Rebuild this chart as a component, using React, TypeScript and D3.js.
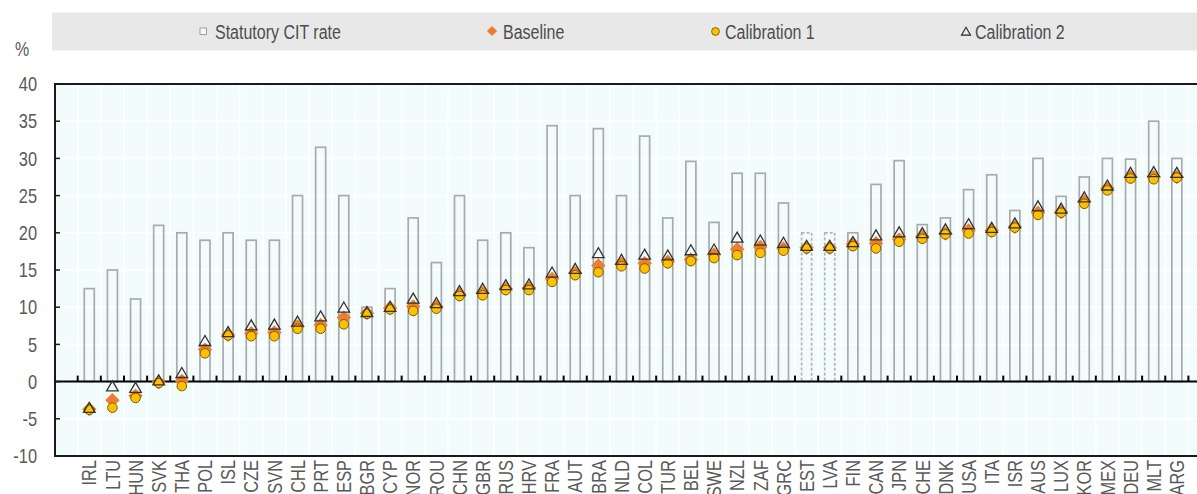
import React from "react";
import * as d3 from "d3";

// Country codes, ordered by baseline ETR
const categories = [
  "IRL", "LTU", "HUN", "SVK", "THA", "POL", "ISL", "CZE", "SVN", "CHL", "PRT", "ESP",
  "BGR", "CYP", "NOR", "ROU", "CHN", "GBR", "RUS", "HRV", "FRA", "AUT", "BRA", "NLD",
  "COL", "TUR", "BEL", "SWE", "NZL", "ZAF", "GRC", "EST", "LVA", "FIN", "CAN", "JPN",
  "CHE", "DNK", "USA", "ITA", "ISR", "AUS", "LUX", "KOR", "MEX", "DEU", "MLT", "ARG",
];

// Statutory corporate income tax rate (%)
const statutory = [
  12.5, 15, 11.1, 21, 20, 19, 20, 19, 19, 25, 31.5, 25,
  10, 12.5, 22, 16, 25, 19, 20, 18, 34.4, 25, 34, 25,
  33, 22, 29.6, 21.4, 28, 28, 24, 20, 20, 20, 26.5, 29.7,
  21.1, 22, 25.8, 27.8, 23, 30, 24.9, 27.5, 30, 29.9, 35, 30,
];

// Countries whose statutory rate is shown with a dashed outline
const dashedCountries = ["EST", "LVA"];

const baseline = [
  -3.7, -2.5, -1.9, -0.1, 0.1, 4.3, 6.3, 6.5, 6.6, 7.4, 7.6, 8.6,
  9.2, 9.9, 10.1, 10.1, 11.7, 11.9, 12.5, 12.6, 13.8, 14.6, 15.6, 15.8,
  15.9, 16.1, 16.4, 17.1, 17.8, 18.1, 17.9, 18.0, 18.0, 18.5, 18.6, 19.1,
  19.5, 19.9, 20.3, 20.3, 20.8, 22.7, 22.8, 24.2, 26.0, 27.5, 27.5, 27.5,
];

const calibration1 = [
  -3.8, -3.5, -2.2, -0.2, -0.6, 3.8, 6.2, 6.1, 6.1, 7.1, 7.1, 7.7,
  9.1, 9.7, 9.5, 9.8, 11.5, 11.6, 12.3, 12.3, 13.4, 14.3, 14.7, 15.5,
  15.2, 15.9, 16.2, 16.6, 17.0, 17.3, 17.6, 17.9, 17.9, 18.2, 17.9, 18.8,
  19.2, 19.8, 19.9, 20.1, 20.7, 22.4, 22.7, 23.9, 25.7, 27.3, 27.2, 27.4,
];

const calibration2 = [
  -3.7, -0.8, -1.0, 0.0, 1.0, 5.3, 6.5, 7.4, 7.5, 7.9, 8.6, 9.8,
  9.2, 9.9, 11.0, 10.4, 12.0, 12.3, 12.8, 12.9, 14.5, 15.0, 17.1, 16.2,
  16.9, 16.8, 17.5, 17.6, 19.2, 18.8, 18.5, 18.1, 18.1, 18.6, 19.5, 19.9,
  19.8, 20.3, 21.0, 20.5, 21.1, 23.4, 23.1, 24.6, 26.2, 27.9, 28.0, 27.9,
];

const yTicks = [-10, -5, 0, 5, 10, 15, 20, 25, 30, 35, 40];
const legendLabels = ["Statutory CIT rate", "Baseline", "Calibration 1", "Calibration 2"];

const W = 1197;
const H = 494;
const FONT = "'Liberation Sans', Arial, sans-serif";
const NARROW = 0.82;
const TEXT = "#595959";

const plotLeft = 55;
const plotTop = 84;
const plotBottom = 456;

const x = d3.scaleBand<string>().domain(categories).range([77.7, 1188.4]).padding(0);
const y = d3.scaleLinear().domain([-10, 40]).range([plotBottom, plotTop]);
const bw = x.bandwidth();
const plotRight = 1188.4 + bw;

const diamond = d3.symbol().type(d3.symbolSquare).size(104)();
const triangle = d3.symbol().type(d3.symbolTriangle).size(58)();
const legendDiamond = d3.symbol().type(d3.symbolSquare).size(52)();
const legendTriangle = d3.symbol().type(d3.symbolTriangle).size(36)();

function NarrowText(props: {
  x: number; y: number; size: number; anchor?: string; rotate?: number; fill?: string; dy?: string;
  children: React.ReactNode;
}) {
  const { x: tx, y: ty, size, anchor = "start", rotate = 0, fill = TEXT, dy, children } = props;
  return (
    <text
      transform={`translate(${tx},${ty}) rotate(${rotate}) scale(${NARROW},1)`}
      fontFamily={FONT}
      fontSize={size}
      textAnchor={anchor}
      fill={fill}
      dy={dy}
    >
      {children}
    </text>
  );
}

export default function App() {
  const boundaries = categories.map((c) => x(c) as number).concat([1188.4]);
  const zeroY = y(0);

  return (
    <svg width={W} height={H} style={{ position: "absolute", left: 0, top: 0, background: "#ffffff" }}>
      {/* legend band */}
      <rect x={52} y={12.5} width={W - 52} height={38} fill="#e8e8e8" />
      <rect x={200} y={28} width={6.5} height={6.5} fill="#f7f7f7" stroke="#8c8c8c" strokeWidth={0.8} />
      <NarrowText x={215} y={39} size={19.5} fill="#4d4d4d">{legendLabels[0]}</NarrowText>
      <path d={legendDiamond} transform="translate(492,31) rotate(45)" fill="#ED7D31" />
      <NarrowText x={503} y={39} size={19.5} fill="#4d4d4d">{legendLabels[1]}</NarrowText>
      <circle cx={715.5} cy={31.5} r={3.9} fill="#FFC000" stroke="#7a5c00" strokeWidth={0.9} />
      <NarrowText x={725} y={39} size={19.5} fill="#4d4d4d">{legendLabels[2]}</NarrowText>
      <path d={legendTriangle} transform="translate(966,32.5)" fill="none" stroke="#262626" strokeWidth={1.1} />
      <NarrowText x={975} y={39} size={19.5} fill="#4d4d4d">{legendLabels[3]}</NarrowText>

      {/* unit label */}
      <NarrowText x={15} y={56} size={19.5}>%</NarrowText>

      {/* plot background and grid */}
      <rect x={plotLeft} y={plotTop} width={plotRight - plotLeft} height={plotBottom - plotTop} fill="#f2fcfc" />
      {yTicks.map((t) => (
        <line key={`g${t}`} x1={plotLeft} x2={plotRight} y1={y(t)} y2={y(t)} stroke="#ffffff" strokeWidth={1.5} />
      ))}
      {boundaries.map((b, i) => (
        <line key={`v${i}`} x1={b} x2={b} y1={plotTop} y2={plotBottom} stroke="#ffffff" strokeWidth={1.5} />
      ))}

      {/* statutory rate bars */}
      {categories.map((c, i) => {
        const cx = (x(c) as number) + bw / 2;
        const v = statutory[i];
        const dashed = dashedCountries.includes(c);
        return (
          <rect
            key={`b${c}`}
            x={cx - 5}
            y={y(v)}
            width={10}
            height={zeroY - y(v)}
            fill="none"
            stroke={dashed ? "#b3b3b3" : "#aaaaaa"}
            strokeWidth={1.7}
            strokeDasharray={dashed ? "3,2" : undefined}
          />
        );
      })}

      {/* frame, zero axis and ticks */}
      <line x1={plotLeft} x2={plotRight} y1={plotTop} y2={plotTop} stroke="#1a1a1a" strokeWidth={2} />
      <line x1={plotLeft} x2={plotRight} y1={plotBottom} y2={plotBottom} stroke="#1a1a1a" strokeWidth={2} />
      <line x1={plotLeft} x2={plotLeft} y1={plotTop - 1} y2={plotBottom + 1} stroke="#1a1a1a" strokeWidth={2} />
      <line x1={plotLeft} x2={plotRight} y1={zeroY} y2={zeroY} stroke="#000000" strokeWidth={2} />
      {boundaries.map((b, i) => (
        <line key={`t${i}`} x1={b} x2={b} y1={zeroY - 6} y2={zeroY} stroke="#000000" strokeWidth={2} />
      ))}
      {yTicks.map((t) => (
        <line key={`yt${t}`} x1={plotLeft} x2={plotLeft + 5} y1={y(t)} y2={y(t)} stroke="#1a1a1a" strokeWidth={1.5} />
      ))}

      {/* y tick labels */}
      {yTicks.map((t) => (
        <NarrowText key={`yl${t}`} x={37} y={y(t)} size={20} anchor="end" dy="0.36em">
          {String(t)}
        </NarrowText>
      ))}

      {/* markers */}
      {categories.map((c, i) => {
        const cx = (x(c) as number) + bw / 2;
        return (
          <g key={`m${c}`}>
            <path d={diamond} transform={`translate(${cx},${y(baseline[i])}) rotate(45)`} fill="#ED7D31" />
            <circle cx={cx} cy={y(calibration1[i])} r={4.8} fill="#FFC000" stroke="#7a5c00" strokeWidth={1} />
            <path d={triangle} transform={`translate(${cx},${y(calibration2[i])})`} fill="none" stroke="#333333" strokeWidth={1.3} />
          </g>
        );
      })}

      {/* category labels */}
      {categories.map((c) => (
        <NarrowText
          key={`xl${c}`}
          x={(x(c) as number) + bw / 2}
          y={460}
          size={20}
          anchor="end"
          rotate={-90}
          dy="0.36em"
        >
          {c}
        </NarrowText>
      ))}
    </svg>
  );
}
